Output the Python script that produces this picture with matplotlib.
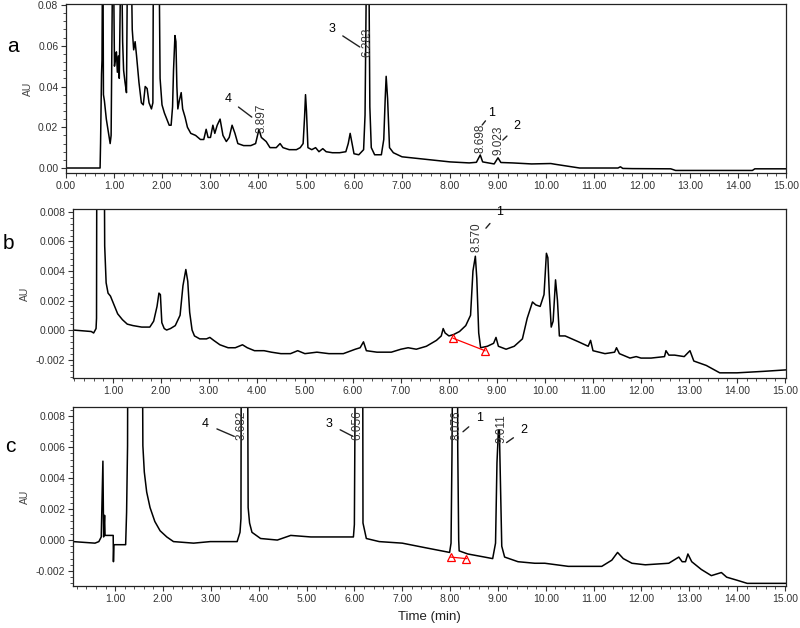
import matplotlib
matplotlib.use("Agg")
import matplotlib.pyplot as plt
from matplotlib.ticker import MultipleLocator, FormatStrFormatter

plt.rcParams['font.family'] = ['Liberation Sans', 'DejaVu Sans']

# ---- trace a: sample extract (time min, AU) ----
a_time = [0.00, 0.71, 0.72, 0.74, 0.75, 0.76, 0.77, 0.78, 0.80, 0.84, 0.88, 0.92, 0.94,
          0.97, 0.99, 1.01, 1.03, 1.05, 1.07, 1.09, 1.11, 1.14, 1.16, 1.18, 1.20, 1.23,
          1.26, 1.28, 1.36, 1.38, 1.41, 1.44, 1.47, 1.52, 1.57, 1.61, 1.65, 1.69, 1.73,
          1.78, 1.81, 1.82, 1.94, 1.96, 2.00, 2.05, 2.10, 2.15, 2.19, 2.22, 2.24, 2.27,
          2.29, 2.31, 2.33, 2.36, 2.40, 2.43, 2.48, 2.53, 2.60, 2.70, 2.80, 2.87, 2.92,
          2.96, 3.01, 3.06, 3.10, 3.15, 3.21, 3.27, 3.34, 3.40, 3.46, 3.52, 3.58, 3.70,
          3.85, 3.95, 4.02, 4.07, 4.12, 4.17, 4.25, 4.38, 4.46, 4.52, 4.65, 4.80, 4.88,
          4.94, 4.97, 4.99, 5.01, 5.04, 5.12, 5.20, 5.27, 5.35, 5.42, 5.55, 5.70, 5.83,
          5.88, 5.92, 5.96, 6.00, 6.10, 6.20, 6.23, 6.26, 6.31, 6.33, 6.36, 6.43, 6.57,
          6.62, 6.65, 6.67, 6.70, 6.74, 6.82, 7.00, 7.20, 7.40, 7.60, 8.00, 8.40, 8.55,
          8.63, 8.68, 8.80, 8.92, 9.00, 9.06, 9.30, 9.70, 10.10, 10.20, 10.70, 11.50,
          11.55, 11.60, 11.80, 12.60, 12.70, 13.50, 14.30, 14.35, 15.00]
a_au = [0.000, 0.000, 0.012, 0.046, 0.053, 0.100, 0.100, 0.036, 0.033, 0.024, 0.018, 0.012, 0.016,
        0.100, 0.100, 0.050, 0.054, 0.057, 0.047, 0.055, 0.044, 0.100, 0.100, 0.062, 0.048, 0.042,
        0.037, 0.100, 0.100, 0.068, 0.058, 0.062, 0.055, 0.042, 0.032, 0.031, 0.040, 0.039, 0.032,
        0.029, 0.032, 0.100, 0.100, 0.044, 0.031, 0.027, 0.024, 0.021, 0.021, 0.030, 0.048, 0.065,
        0.062, 0.040, 0.029, 0.033, 0.037, 0.029, 0.025, 0.020, 0.017, 0.016, 0.014, 0.014, 0.019,
        0.015, 0.015, 0.021, 0.017, 0.021, 0.024, 0.016, 0.013, 0.015, 0.021, 0.017, 0.012, 0.011,
        0.011, 0.012, 0.019, 0.015, 0.014, 0.013, 0.010, 0.010, 0.012, 0.010, 0.009, 0.009, 0.010,
        0.012, 0.025, 0.036, 0.028, 0.010, 0.009, 0.010, 0.008, 0.0095, 0.008, 0.0075, 0.0075, 0.008,
        0.012, 0.017, 0.012, 0.007, 0.0065, 0.009, 0.026, 0.100, 0.100, 0.030, 0.010, 0.0065, 0.0065,
        0.014, 0.034, 0.045, 0.034, 0.010, 0.0075, 0.0055, 0.005, 0.0045, 0.004, 0.003, 0.0025, 0.0028,
        0.0064, 0.003, 0.0025, 0.002, 0.0050, 0.0027, 0.0025, 0.002, 0.0022, 0.0018, 0.0000, 0.0000,
        0.0006, -0.0002, -0.0003, -0.0004, -0.0012, -0.0012, -0.0012, -0.0004, -0.0004]

# ---- trace b ----
b_time = [0.17, 0.55, 0.60, 0.65, 0.66, 0.67, 0.81, 0.83, 0.86, 0.90, 0.95, 1.00, 1.10, 1.20,
          1.30, 1.42, 1.60, 1.77, 1.85, 1.92, 1.96, 1.99, 2.02, 2.07, 2.12, 2.20, 2.30, 2.40,
          2.46, 2.52, 2.56, 2.60, 2.65, 2.70, 2.81, 2.95, 3.02, 3.10, 3.23, 3.40, 3.55, 3.70,
          3.80, 3.95, 4.15, 4.30, 4.50, 4.70, 4.85, 5.00, 5.25, 5.50, 5.80, 6.05, 6.15, 6.22,
          6.28, 6.50, 6.80, 7.00, 7.15, 7.32, 7.53, 7.74, 7.84, 7.88, 7.92, 8.00, 8.10, 8.22,
          8.35, 8.45, 8.50, 8.55, 8.58, 8.62, 8.66, 8.80, 8.93, 8.98, 9.03, 9.19, 9.36, 9.53,
          9.63, 9.74, 9.81, 9.90, 9.98, 10.03, 10.06, 10.09, 10.13, 10.17, 10.22, 10.26, 10.30,
          10.42, 10.70, 10.90, 10.95, 11.00, 11.25, 11.45, 11.49, 11.55, 11.77, 11.90, 12.00,
          12.21, 12.49, 12.52, 12.58, 12.70, 12.90, 13.02, 13.10, 13.36, 13.64, 14.00, 14.55, 15.02]
b_au = [0.0000, -0.0001, -0.0002, 0.0001, 0.0008, 0.0200, 0.0200, 0.0057, 0.0032, 0.0025, 0.0023,
        0.0019, 0.0011, 0.0007, 0.0004, 0.0003, 0.0002, 0.0002, 0.0006, 0.0016, 0.0025, 0.0024,
        0.0005, 0.0001, 0.0000, 0.0001, 0.0003, 0.0010, 0.0030, 0.0041, 0.0033, 0.0012, 0.0000,
        -0.0004, -0.0006, -0.0006, -0.0005, -0.0007, -0.0010, -0.0012, -0.0012, -0.0010, -0.0012,
        -0.0014, -0.0014, -0.0015, -0.0016, -0.0016, -0.0014, -0.0016, -0.0015, -0.0016, -0.0016,
        -0.0013, -0.0012, -0.0008, -0.0014, -0.0015, -0.0015, -0.0013, -0.0012, -0.0013, -0.0011,
        -0.0007, -0.0004, 0.0001, -0.0002, -0.0004, -0.0003, -0.0001, 0.0003, 0.0010, 0.0040,
        0.0050, 0.0035, -0.0002, -0.0012, -0.0011, -0.0009, -0.0005, -0.0011, -0.0013, -0.0011,
        -0.0006, 0.0008, 0.0019, 0.0017, 0.0016, 0.0024, 0.0052, 0.0049, 0.0025, 0.0002, 0.0006,
        0.0034, 0.0020, -0.0004, -0.0004, -0.0008, -0.0011, -0.0007, -0.0014, -0.0016, -0.0015,
        -0.0012, -0.0016, -0.0019, -0.0018, -0.0019, -0.0019, -0.0018, -0.0014, -0.0017, -0.0017,
        -0.0018, -0.0014, -0.0021, -0.0024, -0.0029, -0.0029, -0.0028, -0.0027]

# ---- trace c: standards ----
c_time = [0.12, 0.58, 0.66, 0.71, 0.745, 0.76, 0.78, 0.79, 0.96, 0.965, 0.975, 1.22, 1.24, 1.26,
          1.27, 1.56, 1.58, 1.61, 1.66, 1.73, 1.83, 1.94, 2.08, 2.22, 2.64, 2.99, 3.55, 3.61,
          3.63, 3.64, 3.76, 3.78, 3.81, 3.86, 4.04, 4.39, 4.67, 5.09, 5.98, 6.00, 6.01, 6.03,
          6.17, 6.18, 6.25, 6.52, 7.00, 7.49, 7.99, 8.02, 8.04, 8.07, 8.15, 8.16, 8.18, 8.19,
          8.37, 8.72, 8.89, 8.95, 8.98, 9.01, 9.03, 9.05, 9.08, 9.14, 9.42, 9.77, 9.98, 10.47,
          11.17, 11.38, 11.50, 11.62, 11.80, 12.08, 12.57, 12.78, 12.85, 12.92, 12.97, 13.05,
          13.25, 13.46, 13.67, 13.78, 14.00, 14.21, 14.70, 15.02]
c_au = [-0.0001, -0.0002, -0.0001, 0.0002, 0.0051, 0.0002, 0.0016, 0.0003, 0.0003, -0.0014,
        -0.0003, -0.0003, 0.0018, 0.0061, 0.0200, 0.0200, 0.0061, 0.0044, 0.0031, 0.0021, 0.0012,
        0.0006, 0.0002, -0.0001, -0.0002, -0.0001, -0.0001, 0.0005, 0.0014, 0.0200, 0.0200,
        0.0021, 0.0011, 0.0005, 0.0001, 0.0000, 0.0003, 0.0002, 0.0002, 0.0010, 0.0063, 0.0200,
        0.0200, 0.0011, 0.0001, -0.0001, -0.0002, -0.0005, -0.0008, -0.0002, 0.0056, 0.0200,
        0.0200, 0.0060, 0.0000, -0.0007, -0.0009, -0.0011, -0.0012, -0.0002, 0.0050, 0.0071,
        0.0071, 0.0041, -0.0004, -0.0011, -0.0014, -0.0015, -0.0015, -0.0017, -0.0017, -0.0013,
        -0.0008, -0.0012, -0.0015, -0.0016, -0.0015, -0.0011, -0.0014, -0.0014, -0.0009, -0.0014,
        -0.0019, -0.0023, -0.0021, -0.0024, -0.0026, -0.0028, -0.0028, -0.0028]

# peak labels: (number, text xy, arrow tip xy, retention label, label xy)
a_peaks = [("4", (3.37, 0.0339), (3.87, 0.0250), "3.897", (4.08, 0.0245)),
           ("3", (5.54, 0.0683), (6.12, 0.0594), "6.283", (6.27, 0.0619)),
           ("1", (8.87, 0.0270), (8.67, 0.0211), "8.698", (8.63, 0.0147)),
           ("2", (9.40, 0.0206), (9.10, 0.0137), "9.023", (9.02, 0.0137))]
b_peaks = [("1", (9.06, 0.0080), (8.77, 0.0069), "8.570", (8.58, 0.0063))]
c_peaks = [("4", (2.89, 0.0075), (3.49, 0.0067), "3.682", (3.64, 0.0074)),
           ("3", (5.47, 0.0075), (5.97, 0.0067), "6.056", (6.07, 0.0074)),
           ("1", (8.61, 0.0079), (8.27, 0.0070), "8.076", (8.13, 0.0074)),
           ("2", (9.55, 0.0071), (9.18, 0.0063), "9.011", (9.07, 0.0072))]

# integration baseline markers
b_mark_t = [8.09, 8.75]
b_mark_au = [-0.00056, -0.0014]
c_mark_t = [8.01, 8.34]
c_mark_au = [-0.0011, -0.0012]

W, H = 800, 628
fig = plt.figure(figsize=(W / 100, H / 100), dpi=100)


def rect(l, t, r, b):
    return [l / W, 1 - b / H, (r - l) / W, (b - t) / H]


def style(ax, ylim, xlim, ymaj, ymin, yfmt):
    ax.set_xlim(*xlim)
    ax.set_ylim(*ylim)
    ax.xaxis.set_major_locator(MultipleLocator(1))
    ax.xaxis.set_minor_locator(MultipleLocator(0.2))
    ax.yaxis.set_major_locator(MultipleLocator(ymaj))
    ax.yaxis.set_minor_locator(MultipleLocator(ymin))
    ax.xaxis.set_major_formatter(FormatStrFormatter('%.2f'))
    ax.yaxis.set_major_formatter(FormatStrFormatter(yfmt))
    ax.tick_params(which='major', length=3.5, width=0.8, labelsize=7.5, colors='#333333', pad=2)
    ax.tick_params(which='minor', length=2, width=0.6, colors='#333333')
    for s in ax.spines.values():
        s.set_linewidth(0.9)
        s.set_color('#222222')
    ax.set_ylabel('AU', fontsize=7.5, color='#444444', labelpad=4)


def label_peaks(ax, peaks, clip):
    for num, txy, tip, rt, rxy in peaks:
        ax.annotate(num, xy=tip, xytext=txy, fontsize=9, ha='center', va='center',
                    arrowprops=dict(arrowstyle='-', lw=1.0, color='#222222', shrinkA=4, shrinkB=0),
                    annotation_clip=False)
        ax.text(rxy[0], rxy[1], rt, rotation=90, fontsize=8.5, ha='center', va='center',
                color='#333333', clip_on=clip)


# panel a
ax_a = fig.add_axes(rect(66, 4, 786, 173))
ax_a.plot(a_time, a_au, color='black', lw=1.1)
style(ax_a, (-0.00245, 0.0805), (0, 15.0), 0.02, 0.004, '%.2f')
label_peaks(ax_a, a_peaks, False)
fig.text(7 / W, 1 - 47 / H, 'a', fontsize=15, va='center')

# panel b
ax_b = fig.add_axes(rect(73, 209, 786, 378))
ax_b.plot(b_time, b_au, color='black', lw=1.1)
ax_b.plot(b_mark_t, b_mark_au, color='red', lw=0.9, marker='^', ms=6, mfc='none', mec='red', mew=0.9)
style(ax_b, (-0.00325, 0.0082), (0.17, 15.02), 0.002, 0.0004, '%.3f')
label_peaks(ax_b, b_peaks, False)
fig.text(3 / W, 1 - 243 / H, 'b', fontsize=15, va='center')

# panel c
ax_c = fig.add_axes(rect(73, 407, 786, 586))
ax_c.plot(c_time, c_au, color='black', lw=1.1)
ax_c.plot(c_mark_t, c_mark_au, color='red', lw=0.9, marker='^', ms=6, mfc='none', mec='red', mew=0.9)
style(ax_c, (-0.00297, 0.0086), (0.12, 15.02), 0.002, 0.0004, '%.3f')
label_peaks(ax_c, c_peaks, True)
ax_c.set_xlabel('Time (min)', fontsize=9.5, color='#222222', labelpad=5)
fig.text(5 / W, 1 - 447 / H, 'c', fontsize=15, va='center')

fig.savefig('out.png', dpi=100)
